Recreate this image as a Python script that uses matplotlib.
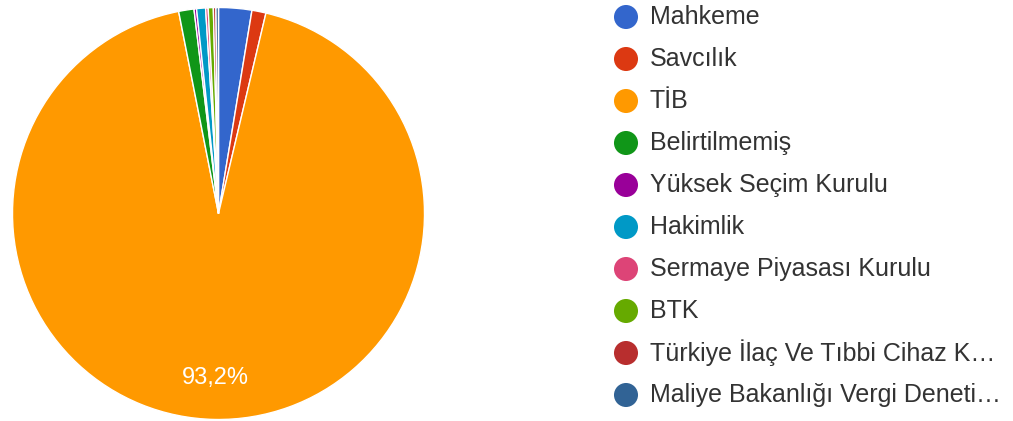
import matplotlib
matplotlib.use("Agg")
import matplotlib.pyplot as plt

plt.rcParams['font.family'] = ['Liberation Sans', 'DejaVu Sans']

labels = ["Mahkeme", "Savcılık", "TİB", "Belirtilmemiş", "Yüksek Seçim Kurulu",
          "Hakimlik", "Sermaye Piyasası Kurulu", "BTK",
          "Türkiye İlaç Ve Tıbbi Cihaz K…", "Maliye Bakanlığı Vergi Deneti…"]
values = [2.6, 1.1, 93.2, 1.2, 0.2, 0.7, 0.2, 0.4, 0.2, 0.2]
colors = ["#3366CC", "#DC3912", "#FF9900", "#109618", "#990099",
          "#0099C6", "#DD4477", "#66AA00", "#B82E2E", "#316395"]

W, H = 1013, 421
fig = plt.figure(figsize=(W / 100, H / 100), dpi=100)
cx, cy, r = 218.5, 207.5, 206
ax = fig.add_axes([(cx - r) / W, (cy - r) / H, 2 * r / W, 2 * r / H])

def fmt(p):
    return ("%.1f%%" % p).replace(".", ",") if p > 5 else ""

wedges, texts, autotexts = ax.pie(
    values, colors=colors, startangle=90, counterclock=False,
    autopct=fmt, pctdistance=0.8, radius=1,
    wedgeprops=dict(edgecolor="white", linewidth=1.0),
    textprops=dict(color="white", fontsize=17))
ax.set_xlim(-1, 1)
ax.set_ylim(-1, 1)
ax.set_aspect("equal")
ax.set_axis_off()

# legend drawn in its own axes, one row per category
lx0 = 600
lax = fig.add_axes([lx0 / W, 0, (W - lx0) / W, 1])
lax.set_xlim(0, W - lx0)
lax.set_ylim(H, 0)
lax.set_axis_off()
rows = list(range(len(labels)))
row_y = [17 + 42 * i for i in rows]
lax.scatter([26] * len(rows), row_y, s=24 ** 2 * 0.52, c=colors, linewidths=0)
for y, lab in zip(row_y, labels):
    lax.text(50, y, lab, fontsize=18, color="#333333", va="center", ha="left")

fig.savefig("out.png", dpi=100)
